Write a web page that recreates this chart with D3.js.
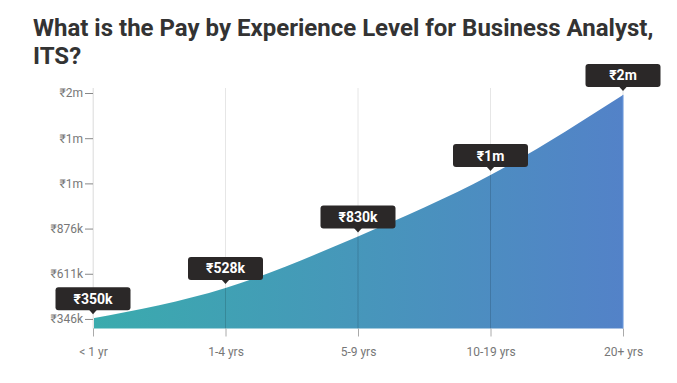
<!DOCTYPE html>
<html>
<head>
<meta charset="utf-8">
<script src="https://cdn.jsdelivr.net/npm/d3@7"></script>
<style>
  html, body { margin: 0; padding: 0; background: #fff; }
  svg { display: block; font-family: Roboto, "Noto Sans", sans-serif; }
</style>
</head>
<body>
<svg id="chart" width="677" height="383"></svg>
<script>
const titleLines = ["What is the Pay by Experience Level for Business Analyst,", "ITS?"];
const categories = ["< 1 yr", "1-4 yrs", "5-9 yrs", "10-19 yrs", "20+ yrs"];
const values = [350000, 528000, 830000, 1190000, 1660000];
const valueLabels = ["₹350k", "₹528k", "₹830k", "₹1m", "₹2m"];
const yTickValues = [346000, 611000, 876000, 1141000, 1406000, 1671000];
const yTickLabels = ["₹346k", "₹611k", "₹876k", "₹1m", "₹1m", "₹2m"];
const yDomain = [290000, 1671000];

(function () {
const svg = d3.select("#chart");
const mLeft = 93, mRight = 623, mTop = 93, mBottom = 328.5;

// Title
const title = svg.append("text")
  .attr("x", 33).attr("y", 36)
  .attr("font-size", 24).attr("font-weight", 700).attr("fill", "#333");
titleLines.forEach((t, i) => {
  title.append("tspan").attr("x", 33).attr("dy", i === 0 ? 0 : 28).text(t);
});

const x = d3.scalePoint().domain(categories).range([mLeft, mRight]);
const y = d3.scaleLinear().domain(yDomain).range([mBottom, mTop]);

// gradient
const defs = svg.append("defs");
const grad = defs.append("linearGradient").attr("id", "areaGrad")
  .attr("gradientUnits", "userSpaceOnUse")
  .attr("x1", mLeft).attr("x2", mRight).attr("y1", 0).attr("y2", 0);
grad.append("stop").attr("offset", "0%").attr("stop-color", "#3aabad");
grad.append("stop").attr("offset", "100%").attr("stop-color", "#5382c8");

// vertical gridlines (under area) light
svg.append("g").selectAll("line").data(categories).join("line")
  .attr("x1", d => x(d)).attr("x2", d => x(d))
  .attr("y1", 88).attr("y2", mBottom)
  .attr("stroke", "#e6e6e6").attr("stroke-width", 1);

// area
const pts = categories.map((c, i) => ({ c, v: values[i] }));
const area = d3.area()
  .x(d => x(d.c)).y0(y(yDomain[0])).y1(d => y(d.v))
  .curve(d3.curveMonotoneX);
svg.append("path").datum(pts)
  .attr("d", area)
  .attr("fill", "url(#areaGrad)");

// gridlines over area (subtle dark)
svg.append("g").selectAll("line").data(pts.slice(1, -1)).join("line")
  .attr("x1", d => x(d.c)).attr("x2", d => x(d.c))
  .attr("y1", d => y(d.v)).attr("y2", mBottom)
  .attr("stroke", "rgba(0,0,0,0.15)").attr("stroke-width", 1);

// right edge light line
svg.append("line")
  .attr("x1", mRight).attr("x2", mRight)
  .attr("y1", y(values[values.length - 1])).attr("y2", mBottom)
  .attr("stroke", "#6d9be0").attr("stroke-width", 1);

// Y axis
const yAxis = d3.axisLeft(y).tickValues(yTickValues)
  .tickFormat((d, i) => yTickLabels[i]).tickSize(8).tickPadding(2);
const gy = svg.append("g").attr("transform", `translate(${mLeft},0)`).call(yAxis);
gy.select(".domain").attr("stroke", "#e6e6e6").attr("d", `M0.5,88V${mBottom}`);
gy.selectAll(".tick line").attr("stroke", "#888");
gy.selectAll(".tick text").attr("fill", "#777").attr("font-size", 12)
  .attr("font-family", "Roboto, sans-serif");

// X axis
const xAxis = d3.axisBottom(x).tickSize(8).tickPadding(11);
const gx = svg.append("g").attr("transform", `translate(0,${mBottom})`).call(xAxis);
gx.select(".domain").remove();
gx.selectAll(".tick line").attr("stroke", "#aaa");
gx.selectAll(".tick text").attr("fill", "#777").attr("font-size", 12)
  .attr("font-family", "Roboto, sans-serif");

// value labels
const bw = 75, bh = 23;
const lab = svg.append("g").selectAll("g").data(pts).join("g")
  .attr("transform", d => `translate(${x(d.c)},${y(d.v)})`);
lab.append("rect")
  .attr("x", -bw / 2).attr("y", -8 - bh).attr("width", bw).attr("height", bh)
  .attr("rx", 3).attr("fill", "#2b2828");
lab.append("path")
  .attr("d", "M-4,-8.5L0,-4L4,-8.5Z").attr("fill", "#2b2828");
lab.append("text")
  .attr("x", 0).attr("y", -8 - bh / 2 + 5)
  .attr("text-anchor", "middle").attr("fill", "#fff")
  .attr("font-size", 14).attr("font-weight", 700)
  .text((d, i) => valueLabels[i]);
})();
</script>
</body>
</html>
